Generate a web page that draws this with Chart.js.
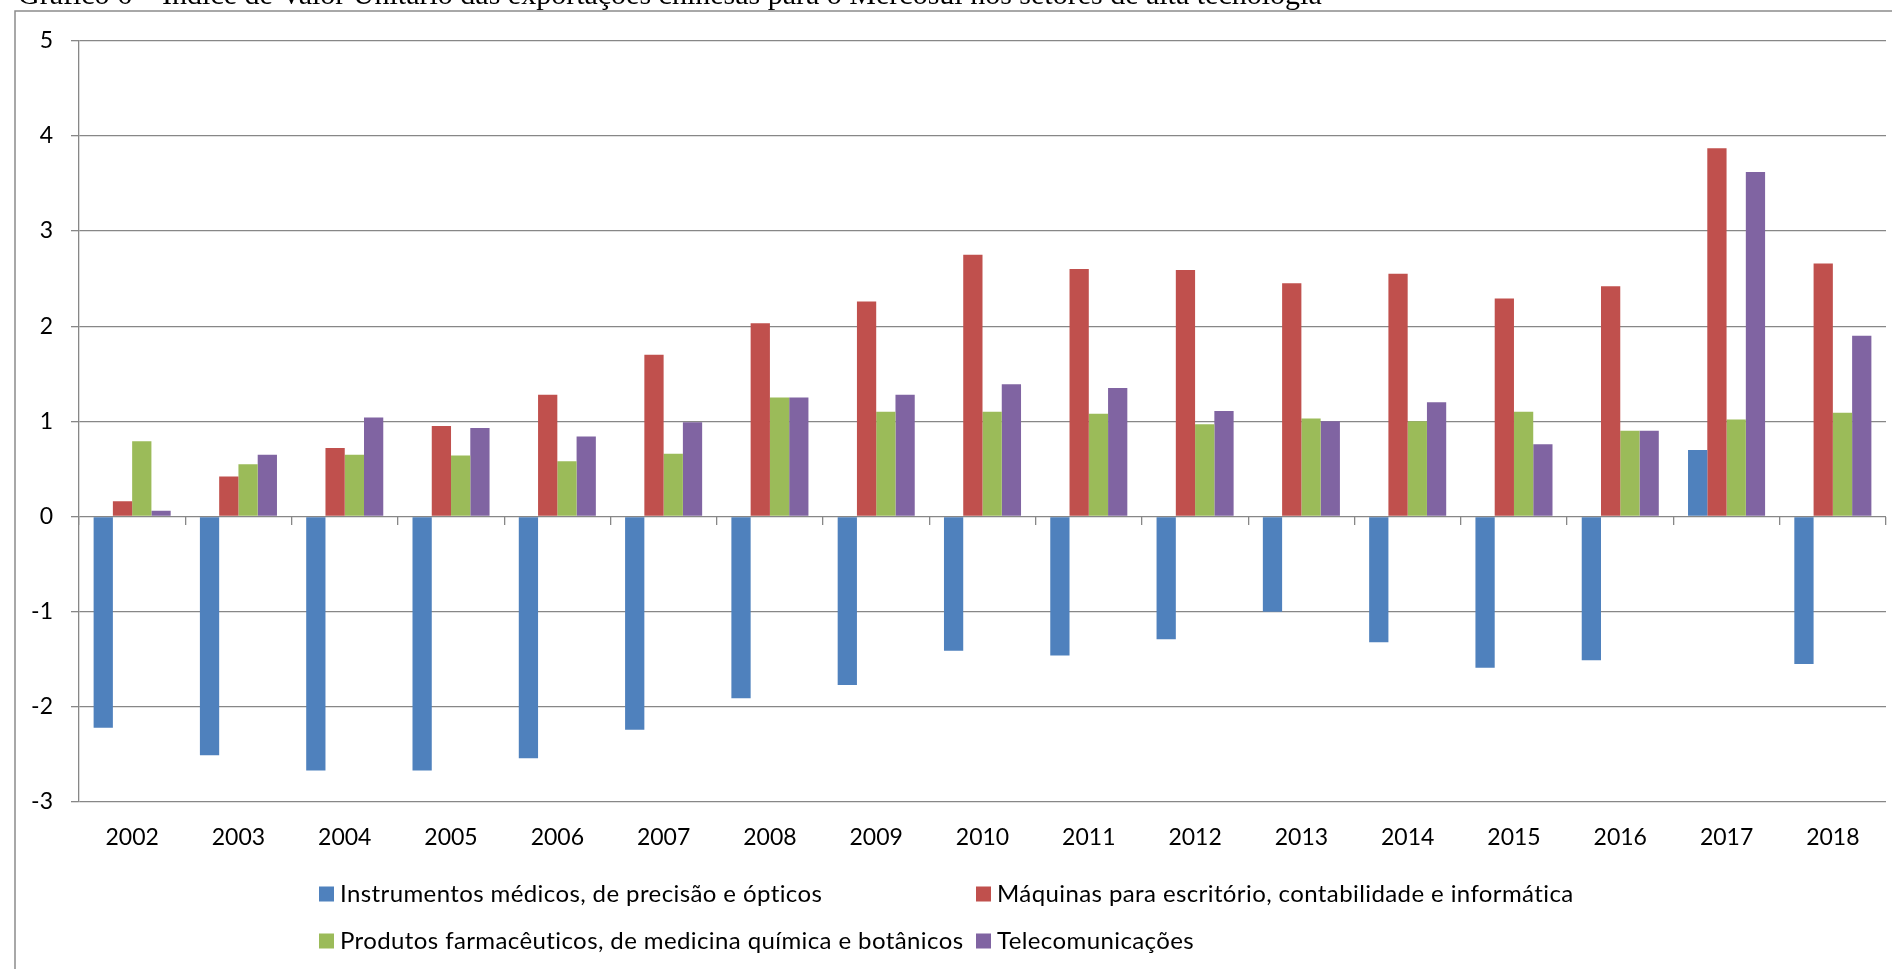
<!DOCTYPE html>
<html lang="pt">
<head>
<meta charset="utf-8">
<title>Índice de Valor Unitário – alta tecnologia</title>
<script src="https://cdn.jsdelivr.net/npm/chart.js@4/dist/chart.umd.min.js"></script>
<style>
  html, body { margin: 0; padding: 0; background: #ffffff; }
  #wrap { position: relative; width: 1892px; height: 969px; overflow: hidden; }
  canvas { display: block; }
</style>
</head>
<body>
<div id="wrap"><canvas id="chart" width="1892" height="969"></canvas></div>
<script>
// Years on the category axis
const years = ['2002', '2003', '2004', '2005', '2006', '2007', '2008', '2009', '2010',
               '2011', '2012', '2013', '2014', '2015', '2016', '2017', '2018'];

// Sector names
const seriesNames = [
  'Instrumentos médicos, de precisão e ópticos',
  'Máquinas para escritório, contabilidade e informática',
  'Produtos farmacêuticos, de medicina química e botânicos',
  'Telecomunicações'
];

// Unit value index per sector and year
const instrumentos = [-2.22, -2.51, -2.67, -2.67, -2.54, -2.24, -1.91, -1.77, -1.41,
                      -1.46, -1.29, -1.00, -1.32, -1.59, -1.51, 0.70, -1.55];
const maquinas     = [0.16, 0.42, 0.72, 0.95, 1.28, 1.70, 2.03, 2.26, 2.75,
                      2.60, 2.59, 2.45, 2.55, 2.29, 2.42, 3.87, 2.66];
const farmaceuticos = [0.79, 0.55, 0.65, 0.64, 0.58, 0.66, 1.25, 1.10, 1.10,
                       1.08, 0.97, 1.03, 1.00, 1.10, 0.90, 1.02, 1.09];
const telecom      = [0.06, 0.65, 1.04, 0.93, 0.84, 0.99, 1.25, 1.28, 1.39,
                      1.35, 1.11, 1.00, 1.20, 0.76, 0.90, 3.62, 1.90];

// Value axis range
const yMin = -3;
const yMax = 5;
const yStep = 1;

const titleText = 'Gráfico 6 – Índice de Valor Unitário das exportações chinesas para o Mercosul nos setores de alta tecnologia';

const colors = ['#4F81BD', '#C0504D', '#9BBB59', '#8064A2'];
const gridColor = '#878787';
const fontFamily = 'Lato, "Open Sans", sans-serif';

// Caption above the frame and the frame border itself
const framePlugin = {
  id: 'frameAndCaption',
  beforeDraw(chart) {
    const ctx = chart.ctx;
    ctx.save();
    ctx.strokeStyle = '#8c8c8c';
    ctx.lineWidth = 1.5;
    ctx.beginPath();
    ctx.moveTo(15, chart.height + 2);
    ctx.lineTo(15, 11);
    ctx.lineTo(chart.width + 2, 11);
    ctx.stroke();
    ctx.fillStyle = '#000000';
    ctx.font = '30px "Liberation Serif", "Times New Roman", serif';
    ctx.textBaseline = 'alphabetic';
    ctx.textAlign = 'left';
    ctx.fillText(titleText, 18, 4);
    ctx.restore();
  }
};

// Two-column legend below the axis
const legendPlugin = {
  id: 'gridLegend',
  afterDraw(chart) {
    const ctx = chart.ctx;
    const cols = [319, 976];
    const rows = [894, 941];
    const box = 15;
    ctx.save();
    ctx.font = '24px ' + fontFamily;
    if ('letterSpacing' in ctx) ctx.letterSpacing = '0.4px';
    ctx.textBaseline = 'middle';
    ctx.textAlign = 'left';
    chart.data.datasets.forEach((ds, i) => {
      const x = cols[i % 2];
      const y = rows[Math.floor(i / 2)];
      ctx.fillStyle = ds.backgroundColor;
      ctx.fillRect(x, y - box / 2, box, box);
      ctx.fillStyle = '#000000';
      ctx.fillText(ds.label, x + 21, y);
    });
    ctx.restore();
  }
};

function draw() {
  const seriesValues = [instrumentos, maquinas, farmaceuticos, telecom];
  const datasets = seriesValues.map((vals, i) => ({
    label: seriesNames[i],
    data: vals,
    backgroundColor: colors[i],
    borderWidth: 0,
    barPercentage: 1.0,
    categoryPercentage: 0.725,
    xAxisID: 'x'
  }));

  new Chart(document.getElementById('chart'), {
    type: 'bar',
    data: { labels: years, datasets },
    options: {
      responsive: false,
      animation: false,
      devicePixelRatio: 1,
      layout: { padding: { top: 40.7, right: 6, bottom: 0, left: 0 } },
      plugins: {
        legend: { display: false },
        title: { display: false },
        tooltip: { enabled: false }
      },
      scales: {
        x: {
          type: 'category',
          position: 'bottom',
          grid: { display: false, drawTicks: false },
          border: { display: false },
          ticks: {
            color: '#000000',
            font: { family: fontFamily, size: 23 },
            padding: 22,
            maxRotation: 0,
            autoSkip: false
          },
          afterFit(scale) { scale.height = 167; }
        },
        xZero: {
          type: 'category',
          position: { y: 0 },
          offset: true,
          grid: {
            display: true,
            offset: true,
            drawOnChartArea: false,
            drawTicks: true,
            tickLength: 8,
            color: gridColor,
            lineWidth: 1.3
          },
          border: { display: false },
          ticks: { display: false }
        },
        y: {
          min: yMin,
          max: yMax,
          position: 'left',
          grid: {
            color: gridColor,
            lineWidth: 1.3,
            drawTicks: true,
            tickLength: 8
          },
          border: { display: true, color: gridColor, width: 1.3 },
          ticks: {
            stepSize: yStep,
            color: '#000000',
            font: { family: fontFamily, size: 23 },
            padding: 18
          },
          afterFit(scale) { scale.width = 79; }
        }
      }
    },
    plugins: [framePlugin, legendPlugin]
  });
}

if (document.fonts && document.fonts.load) {
  Promise.all([
    document.fonts.load('23px Lato'),
    document.fonts.load('24px Lato'),
    document.fonts.load('30px "Liberation Serif"')
  ]).then(draw, draw);
} else {
  draw();
}
</script>
</body>
</html>
